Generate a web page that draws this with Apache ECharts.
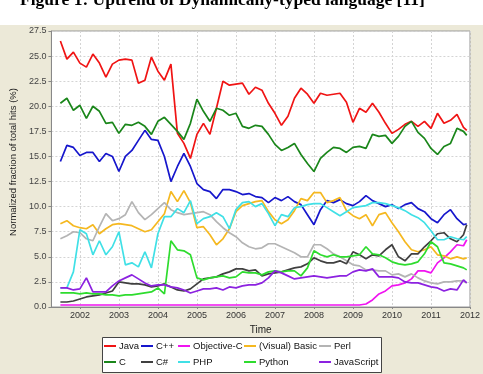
<!DOCTYPE html>
<html lang="en">
<head>
    <meta charset="UTF-8"/>
    <title>Uptrend of dynamically-typed languages</title>
    <script src="https://cdn.jsdelivr.net/npm/echarts@6/dist/echarts.min.js"></script>
    <style>html, body { margin: 0; padding: 0; background: #fff; }</style>
</head>
<body>

<div id="main" style="width: 483px; height: 374px;"></div>

<script type="text/javascript">
    // sample months (every second month)
    var months = ['2001-07', '2001-09', '2001-11',
        '2002-01', '2002-03', '2002-05', '2002-07', '2002-09', '2002-11',
        '2003-01', '2003-03', '2003-05', '2003-07', '2003-09', '2003-11',
        '2004-01', '2004-03', '2004-05', '2004-07', '2004-09', '2004-11',
        '2005-01', '2005-03', '2005-05', '2005-07', '2005-09', '2005-11',
        '2006-01', '2006-03', '2006-05', '2006-07', '2006-09', '2006-11',
        '2007-01', '2007-03', '2007-05', '2007-07', '2007-09', '2007-11',
        '2008-01', '2008-03', '2008-05', '2008-07', '2008-09', '2008-11',
        '2009-01', '2009-03', '2009-05', '2009-07', '2009-09', '2009-11',
        '2010-01', '2010-03', '2010-05', '2010-07', '2010-09', '2010-11',
        '2011-01', '2011-03', '2011-05', '2011-07', '2011-09', '2011-11', '2011-12'];

    var yearTicks = [2002, 2003, 2004, 2005, 2006, 2007, 2008, 2009, 2010, 2011, 2012];

    var java = [26.5, 24.7, 25.4, 24.3, 23.9, 25.2, 24.3, 22.9, 24.2, 24.6, 24.7, 24.6, 22.3, 22.6, 24.9, 23.5,
        22.6, 24.2, 17.3, 16.3, 14.8, 17.2, 18.3, 17.2, 19.8, 22.5, 22.1, 22.2, 22.3, 21.2, 21.9, 21.6,
        20.3, 19.3, 18.1, 19.0, 20.8, 21.8, 21.2, 20.3, 21.3, 21.1, 21.2, 21.3, 20.4, 18.4, 19.8, 19.4,
        20.3, 19.4, 18.3, 17.3, 17.7, 18.2, 18.5, 18.0, 18.5, 17.8, 19.3, 18.3, 18.6, 19.2, 17.9, 17.6];
    var cpp = [14.5, 16.1, 15.9, 15.1, 15.4, 15.4, 14.5, 15.3, 15.0, 13.5, 15.0, 15.6, 16.6, 17.6, 16.7, 16.6,
        15.0, 12.5, 14.0, 15.3, 14.0, 12.3, 11.7, 11.5, 10.8, 11.7, 11.7, 11.5, 11.2, 11.3, 11.0, 10.9,
        10.4, 10.9, 10.6, 11.0, 10.5, 10.2, 9.2, 8.2, 9.7, 10.6, 10.4, 10.7, 10.3, 10.1, 10.5, 11.1,
        10.6, 10.3, 10.0, 10.2, 9.8, 10.2, 10.4, 9.8, 9.5, 8.8, 8.4, 9.2, 9.7, 8.8, 8.2, 8.3];
    var objc = [0.2, 0.2, 0.2, 0.2, 0.2, 0.2, 0.2, 0.2, 0.2, 0.2, 0.2, 0.2, 0.2, 0.2, 0.2, 0.2,
        0.2, 0.2, 0.2, 0.2, 0.2, 0.2, 0.2, 0.2, 0.2, 0.2, 0.2, 0.2, 0.2, 0.2, 0.2, 0.2,
        0.2, 0.2, 0.2, 0.2, 0.2, 0.2, 0.2, 0.2, 0.2, 0.2, 0.2, 0.2, 0.2, 0.2, 0.2, 0.3,
        0.7, 1.3, 1.6, 2.1, 2.2, 2.4, 2.8, 3.6, 3.6, 3.4, 4.4, 4.9, 5.5, 6.2, 6.1, 6.7];
    var basic = [8.3, 8.6, 8.1, 7.9, 7.8, 8.2, 7.3, 7.8, 8.2, 8.3, 8.2, 8.1, 7.8, 7.5, 7.7, 8.5,
        9.3, 11.5, 10.5, 11.6, 10.4, 7.9, 8.0, 7.2, 6.2, 6.8, 7.8, 9.5, 10.1, 10.3, 10.5, 10.6,
        9.5, 8.7, 8.3, 8.7, 9.6, 10.8, 10.6, 11.4, 11.4, 10.4, 10.6, 10.9, 9.6, 9.1, 8.8, 9.2,
        8.1, 9.2, 9.4, 8.4, 7.5, 6.5, 5.7, 5.5, 5.7, 6.0, 5.2, 5.1, 4.8, 5.0, 4.8, 4.9];
    var perl = [6.8, 7.1, 7.5, 7.4, 6.8, 6.6, 8.0, 9.3, 8.6, 8.8, 9.2, 10.5, 9.4, 8.7, 9.2, 9.8,
        10.4, 9.7, 9.4, 9.2, 9.3, 9.4, 9.5, 9.2, 8.5, 7.9, 7.4, 7.0, 6.4, 6.0, 5.8, 5.9,
        6.3, 6.3, 6.0, 5.7, 5.4, 5.0, 5.0, 6.2, 6.2, 5.8, 5.3, 5.0, 4.6, 4.2, 4.1, 3.7,
        3.7, 3.6, 3.6, 3.2, 3.3, 3.0, 3.3, 2.9, 2.6, 2.4, 2.3, 2.5, 2.5, 2.6, 2.6, 2.4];
    var c = [20.3, 20.8, 19.6, 20.1, 18.8, 20.0, 19.5, 18.3, 18.4, 17.3, 18.2, 18.1, 18.4, 18.0, 17.2, 18.5,
        18.9, 18.2, 17.5, 16.7, 18.3, 20.7, 19.5, 18.5, 19.8, 19.6, 19.1, 19.3, 18.0, 17.8, 18.1, 18.0,
        17.2, 16.2, 15.6, 15.9, 16.3, 15.2, 14.3, 13.5, 14.8, 15.4, 15.9, 15.8, 15.4, 15.9, 16.0, 15.8,
        17.2, 17.0, 17.1, 16.3, 17.0, 18.0, 18.5, 17.4, 16.8, 15.8, 15.2, 16.0, 16.3, 17.8, 17.5, 17.1];
    var csharp = [0.5, 0.5, 0.6, 0.8, 1.0, 1.1, 1.2, 1.4, 1.6, 2.5, 2.4, 2.3, 2.3, 2.2, 2.0, 2.1,
        2.3, 2.0, 1.7, 1.6, 1.8, 2.3, 2.8, 2.9, 3.0, 3.3, 3.5, 3.8, 3.8, 3.6, 3.7, 3.1,
        3.3, 3.4, 3.5, 3.7, 3.9, 4.0, 4.3, 4.9, 4.6, 4.4, 4.4, 4.6, 4.3, 5.5, 5.2, 4.8,
        5.2, 5.1, 5.7, 6.2, 5.0, 4.6, 5.3, 5.3, 6.0, 6.6, 7.3, 7.4, 6.8, 6.5, 7.2, 8.2];
    var php = [1.9, 1.9, 3.5, 7.7, 7.3, 5.2, 6.6, 5.2, 6.0, 7.5, 4.2, 4.4, 4.0, 5.5, 3.9, 7.3,
        9.0, 9.0, 9.8, 9.4, 10.6, 8.3, 8.8, 9.0, 9.4, 9.0, 7.8, 9.7, 10.4, 10.5, 10.0, 10.3,
        9.3, 8.1, 9.2, 9.0, 9.9, 10.0, 10.2, 10.3, 10.3, 9.9, 9.5, 9.1, 9.5, 9.9, 10.0, 10.1,
        10.4, 10.4, 10.3, 10.1, 9.9, 9.6, 9.2, 8.9, 8.4, 7.6, 6.7, 6.7, 7.0, 6.8, 6.7, 7.0];
    var python = [1.4, 1.4, 1.4, 1.3, 1.4, 1.3, 1.3, 1.2, 1.2, 1.1, 1.2, 1.2, 1.3, 1.4, 1.5, 1.9,
        1.3, 6.6, 5.7, 5.6, 5.2, 2.9, 2.7, 2.9, 3.0, 3.1, 2.9, 3.0, 3.5, 3.4, 3.4, 3.2,
        3.5, 3.6, 3.5, 3.6, 3.6, 3.1, 3.9, 5.6, 5.2, 5.0, 5.2, 5.0, 5.0, 5.1, 5.2, 6.0,
        5.3, 5.2, 4.9, 4.5, 4.3, 4.2, 4.3, 4.5, 5.3, 6.5, 6.0, 4.4, 4.3, 4.1, 3.9, 3.7];
    var javascript = [1.9, 1.9, 1.7, 1.8, 2.9, 1.5, 1.5, 1.5, 2.1, 2.6, 2.9, 3.2, 2.8, 2.4, 2.1, 2.2,
        2.2, 2.0, 1.9, 1.7, 1.4, 1.6, 1.8, 1.8, 1.9, 1.7, 2.0, 1.9, 2.1, 2.2, 2.2, 2.4,
        2.9, 3.6, 3.4, 3.1, 2.8, 2.9, 3.0, 3.1, 3.0, 2.9, 3.0, 3.1, 3.1, 3.5, 3.7, 3.6,
        3.8, 3.0, 3.0, 3.0, 2.9, 2.5, 2.4, 2.4, 2.2, 2.0, 1.9, 1.6, 1.8, 1.7, 2.7, 2.4];

    var names = ['Java', 'C++', 'Objective-C', '(Visual) Basic', 'Perl', 'C', 'C#', 'PHP', 'Python', 'JavaScript'];
    var values = [java, cpp, objc, basic, perl, c, csharp, php, python, javascript];
    var colors = ['#f01414', '#1616cc', '#f014f0', '#f5b820', '#b4b4b4', '#1a861a', '#404040', '#40e0e6', '#2edc2e', '#8c22e0'];

    // month string -> decimal year
    var xs = months.map(function (m) {
        var p = m.split('-');
        return +p[0] + (+p[1] - 1) / 12;
    });

    var font = 'Liberation Sans, Arial, sans-serif';

    var series = names.map(function (name, i) {
        return {
            name: name,
            type: 'line',
            symbol: 'none',
            color: colors[i],
            lineStyle: {width: 1.7, color: colors[i]},
            emphasis: {disabled: true},
            data: values[i].map(function (v, j) { return [xs[j], v]; })
        };
    });

    // legend: five columns of two rows each
    var legendLeft = [104, 141, 178, 244, 319];
    var legends = legendLeft.map(function (left, col) {
        return {
            orient: 'vertical',
            left: left,
            top: 340,
            padding: 0,
            itemGap: 4,
            itemWidth: 12,
            itemHeight: 2,
            icon: 'rect',
            z: 5,
            selectedMode: false,
            data: [names[col], names[col + 5]],
            textStyle: {fontSize: 9.5, lineHeight: 12, color: '#111', fontFamily: font, padding: [0, 0, 0, -2]}
        };
    });

    var myChart = echarts.init(document.getElementById('main'));

    var option = {
        backgroundColor: '#ece9d8',
        animation: false,
        title: {
            text: 'Figure 1: Uptrend of Dynamically-typed language [11]',
            left: 15,
            top: -14,
            textStyle: {fontFamily: 'Liberation Serif, Times New Roman, serif', fontWeight: 'bold', fontSize: 17.5, color: '#000'}
        },
        graphic: [
            {type: 'rect', z: 0, shape: {x: 0, y: 0, width: 483, height: 25}, style: {fill: '#fff'}},
            {type: 'rect', z: 1, shape: {x: 102.5, y: 337.5, width: 279, height: 35}, style: {fill: '#fff', stroke: '#444', lineWidth: 1}}
        ],
        legend: legends,
        grid: {
            left: 42, right: 10, top: 31, bottom: 67,
            show: true, backgroundColor: '#fff', borderColor: '#999', borderWidth: 1
        },
        xAxis: {
            type: 'value',
            min: 2001.27,
            max: 2012,
            splitNumber: 11,
            name: 'Time',
            nameLocation: 'middle',
            nameGap: 14,
            nameTextStyle: {fontSize: 10, color: '#222', fontFamily: font},
            axisLine: {show: true, lineStyle: {color: '#888'}},
            axisTick: {show: true, length: 2, customValues: yearTicks, lineStyle: {color: '#888'}},
            axisLabel: {
                customValues: yearTicks, fontSize: 9, color: '#333', margin: 4, fontFamily: font,
                formatter: function (v) { return String(v); }
            },
            splitLine: {show: true, lineStyle: {color: '#d4d4d4', type: [2, 2]}}
        },
        yAxis: {
            type: 'value',
            min: 0,
            max: 27.5,
            interval: 2.5,
            name: 'Normalized fraction of total hits (%)',
            nameLocation: 'middle',
            nameGap: 24,
            nameTextStyle: {fontSize: 9.5, color: '#222', fontFamily: font, padding: [0, 0, 0, 14]},
            axisLine: {show: true, lineStyle: {color: '#888'}},
            axisTick: {show: true, length: 3, lineStyle: {color: '#888'}},
            axisLabel: {
                fontSize: 9, color: '#444', margin: 5, fontFamily: font,
                formatter: function (v) { return v.toFixed(1); }
            },
            splitLine: {show: true, lineStyle: {color: '#d4d4d4', type: [2, 2]}}
        },
        series: series
    };

    myChart.setOption(option);
</script>
</body>
</html>
